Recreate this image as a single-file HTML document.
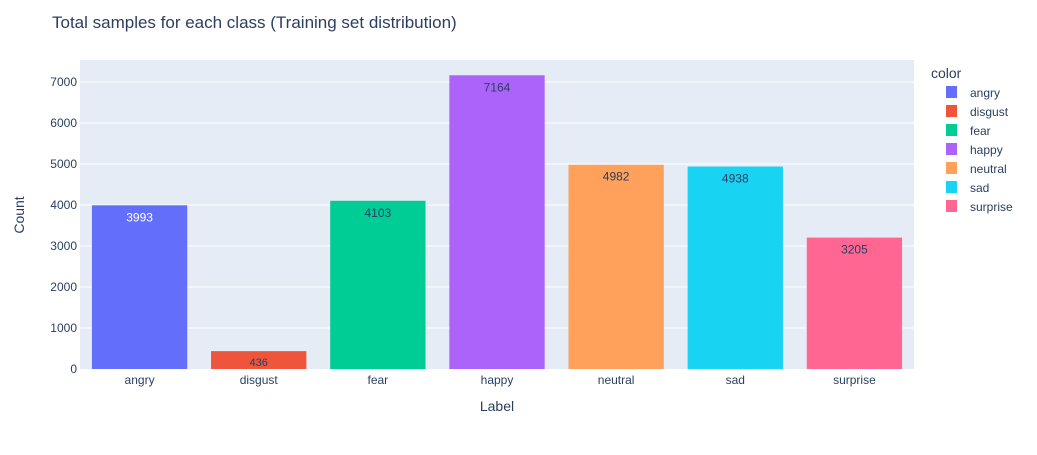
<!DOCTYPE html>
<html><head><meta charset="utf-8"><style>
body{margin:0;background:#fff;font-family:"Liberation Sans",Arial,sans-serif;}
svg text{font-family:"Liberation Sans",Arial,sans-serif;}
</style></head><body>
<svg id="chart" width="1037" height="450" xmlns="http://www.w3.org/2000/svg">
<rect width="1037" height="450" fill="#fff"/>
<text x="52" y="28" font-size="17" fill="#2a3f5f">Total samples for each class (Training set distribution)</text>
<rect x="80" y="60" width="834" height="309" fill="#e5ecf6"/>
<g id="grid"></g><g id="bars"></g><g id="legend"></g>
<text x="497" y="411" font-size="14" fill="#2a3f5f" text-anchor="middle">Label</text>
<text transform="translate(24,215) rotate(-90)" font-size="14" fill="#2a3f5f" text-anchor="middle">Count</text>
</svg>
<script>
const categories=["angry","disgust","fear","happy","neutral","sad","surprise"];
const values=[3993,436,4103,7164,4982,4938,3205];
const colors=["#636efa","#EF553B","#00cc96","#ab63fa","#FFA15A","#19d3f3","#FF6692"];
const yTicks=[0,1000,2000,3000,4000,5000,6000,7000];
const NS="http://www.w3.org/2000/svg";
const X0=80,X1=914,Y0=369,PER=0.041;
const bw=(X1-X0)/categories.length;
const y=v=>Y0-v*PER;
const x=i=>X0+i*bw;
function mk(t,a,p){const e=document.createElementNS(NS,t);for(const k in a)e.setAttribute(k,a[k]);p.appendChild(e);return e;}
const grid=document.getElementById('grid'),bars=document.getElementById('bars'),leg=document.getElementById('legend');
yTicks.forEach(t=>{
 if(t>0){const l=mk('line',{x1:X0,x2:X1,y1:y(t),y2:y(t),stroke:'#fff','stroke-width':1},grid);
 
 }
 const tx=mk('text',{x:X0-3,y:y(t)+4,'font-size':12,fill:'#2a3f5f','text-anchor':'end'},grid);tx.textContent=t;
 
 
});
categories.forEach((c,i)=>{
 const r=mk('rect',{x:x(i)+bw*0.1,y:y(values[i]),width:bw*0.8,height:values[i]*PER,fill:colors[i]},bars);
 
 
 const small=values[i]<1000;
 const vt=mk('text',{x:x(i)+bw/2,y:y(values[i])+(small?15:16),'font-size':small?11:12,fill:i===0?'#fff':'#2a3f5f','text-anchor':'middle'},bars);vt.textContent=values[i];
 
 
 const xt=mk('text',{x:x(i)+bw/2,y:Y0+15,'font-size':12,fill:'#2a3f5f','text-anchor':'middle'},bars);xt.textContent=c;
 
 
 const ls=mk('rect',{x:946,y:86+i*19,width:11,height:12,fill:colors[i]},leg);
 
 
 const lt=mk('text',{x:970,y:97+i*19,'font-size':12,fill:'#2a3f5f'},leg);lt.textContent=c;
 
 
});
const lt=mk('text',{x:931,y:78,'font-size':14,fill:'#2a3f5f'},leg);lt.textContent='color';


</script>
</body></html>
